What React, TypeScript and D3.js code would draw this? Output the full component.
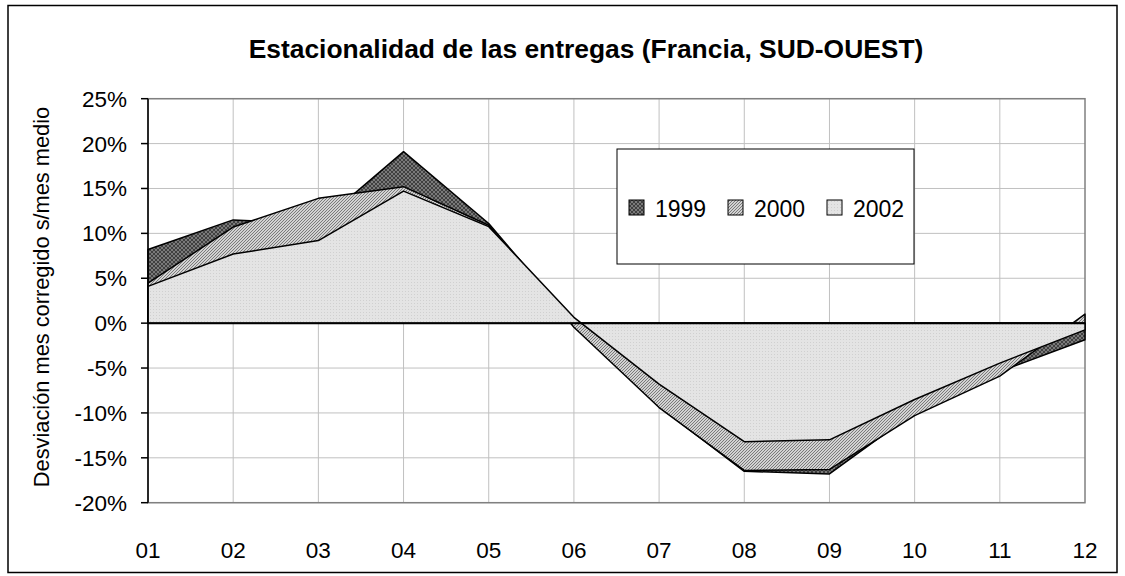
import React from "react";
import * as d3 from "d3";

const months = ["01", "02", "03", "04", "05", "06", "07", "08", "09", "10", "11", "12"];
const s1999 = [8.2, 11.5, 11.0, 19.1, 11.1, 0.0, -9.3, -16.5, -16.8, -9.9, -5.4, -1.85];
const s2000 = [4.45, 10.7, 13.9, 15.2, 10.9, -0.45, -9.4, -16.4, -16.3, -10.3, -5.9, 1.0];
const s2002 = [4.1, 7.7, 9.2, 14.7, 10.75, 0.65, -6.8, -13.2, -13.0, -8.5, -4.45, -0.75];
const seriesNames = ["1999", "2000", "2002"];
const yTicks = [-20, -15, -10, -5, 0, 5, 10, 15, 20, 25];

const FONT = "'Liberation Sans', Arial, sans-serif";

export default function App() {
  const W = 1125, H = 576;
  const left = 148, right = 1085, top = 98.7, bottom = 502.7;
  const x = d3.scalePoint<string>().domain(months).range([left, right]);
  const y = d3.scaleLinear().domain([-20, 25]).range([bottom, top]);
  const area = d3
    .area<number>()
    .x((_, i) => x(months[i]) as number)
    .y0(y(0))
    .y1((d) => y(d));
  const series = [
    { name: seriesNames[0], data: s1999, fill: "url(#p1999)" },
    { name: seriesNames[1], data: s2000, fill: "url(#p2000)" },
    { name: seriesNames[2], data: s2002, fill: "url(#p2002)" },
  ];
  const legendX = [629, 728, 827];
  return (
    <svg width={W} height={H} style={{ position: "absolute", left: 0, top: 0 }} fontFamily={FONT}>
      <defs>
        <pattern id="p1999" width="4" height="4" patternUnits="userSpaceOnUse">
          <rect width="4" height="4" fill="#7a7a7a" />
          <path d="M0,0 L4,4 M4,0 L0,4" stroke="#404040" strokeWidth="1" />
        </pattern>
        <pattern id="p2000" width="3" height="3" patternUnits="userSpaceOnUse">
          <rect width="3" height="3" fill="#d2d2d2" />
          <path d="M-1,4 L4,-1 M-1,1 L1,-1 M2,4 L4,2" stroke="#7a7a7a" strokeWidth="1" />
        </pattern>
        <pattern id="p2002" width="3" height="3" patternUnits="userSpaceOnUse">
          <rect width="3" height="3" fill="#e4e4e4" />
          <rect x="0" y="0" width="1" height="1" fill="#d0d0d0" />
        </pattern>
      </defs>
      <rect x={8} y={5.5} width={1109} height={567} fill="white" stroke="#000" strokeWidth={1.5} />
      <text x={586} y={58} textAnchor="middle" fontSize={26.4} fontWeight="bold">
        Estacionalidad de las entregas (Francia, SUD-OUEST)
      </text>
      {yTicks.map((t) => (
        <line key={"h" + t} x1={left} x2={right} y1={y(t)} y2={y(t)} stroke="#c0c0c0" strokeWidth={1} />
      ))}
      {months.slice(1, -1).map((m) => (
        <line key={"v" + m} x1={x(m)} x2={x(m)} y1={top} y2={bottom} stroke="#c0c0c0" strokeWidth={1} />
      ))}
      <rect x={left} y={top} width={right - left} height={bottom - top} fill="none" stroke="#808080" strokeWidth={1.5} />
      {series.map((s) => (
        <path key={s.name} d={area(s.data) || ""} fill={s.fill} stroke="#000" strokeWidth={1.5} strokeLinejoin="round" />
      ))}
      <line x1={left} x2={right} y1={y(0)} y2={y(0)} stroke="#000" strokeWidth={2} />
      <line x1={left} x2={left} y1={top} y2={bottom} stroke="#000" strokeWidth={1.5} />
      {yTicks.map((t) => (
        <g key={"t" + t}>
          <line x1={left - 7} x2={left} y1={y(t)} y2={y(t)} stroke="#000" strokeWidth={1.5} />
          <text x={127} y={y(t) + 8} textAnchor="end" fontSize={22.5}>
            {t + "%"}
          </text>
        </g>
      ))}
      {months.map((m) => (
        <text key={"x" + m} x={x(m)} y={558} textAnchor="middle" fontSize={22.5}>
          {m}
        </text>
      ))}
      <text transform="translate(49,297) rotate(-90)" textAnchor="middle" fontSize={21.8}>
        Desviación mes corregido s/mes medio
      </text>
      <rect x={617} y={149} width={297} height={115} fill="white" stroke="#000" strokeWidth={1} />
      {series.map((s, i) => (
        <g key={"l" + s.name}>
          <rect x={legendX[i]} y={200} width={15} height={15} fill={s.fill} stroke="#000" strokeWidth={1} />
          <text x={legendX[i] + 26} y={217} fontSize={23}>
            {s.name}
          </text>
        </g>
      ))}
    </svg>
  );
}
